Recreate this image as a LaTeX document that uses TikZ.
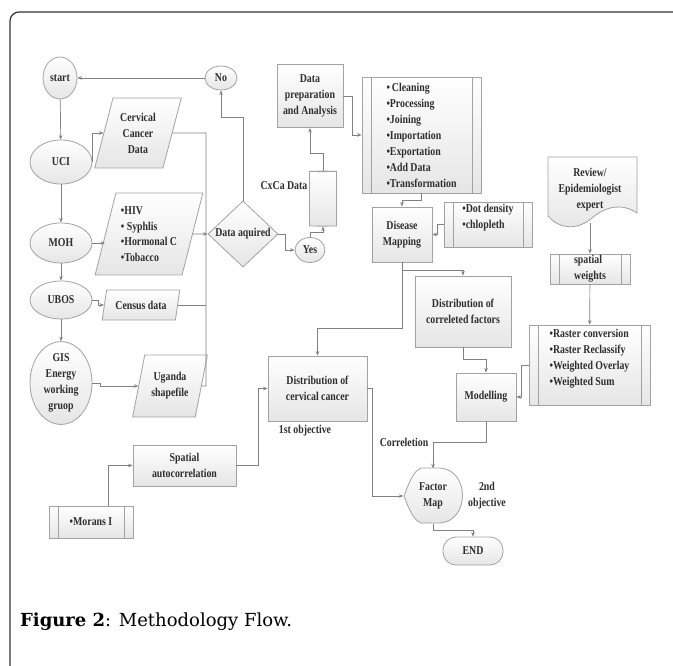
\documentclass[tikz,border=0pt]{standalone}
\usepackage{fontspec}
\setmainfont{Liberation Serif}
\newfontfamily\flowfont[FakeStretch=0.82]{Liberation Serif}
\newfontfamily\capfont{DejaVu Serif}
\usetikzlibrary{shapes.geometric,arrows.meta}
\definecolor{linegray}{HTML}{808080}
\definecolor{boxgray}{HTML}{A2A2A2}
\definecolor{txtgray}{HTML}{2E2E2E}

\begin{document}
\begin{tikzpicture}[x=1pt,y=-1pt,
  every node/.style={font=\flowfont\bfseries\fontsize{12}{16}\selectfont,text=txtgray},
  box/.style={draw=boxgray,line width=0.8pt,top color=white,bottom color=gray!20,inner sep=1pt,align=center},
  oval/.style={box,ellipse},
  datain/.style={box,trapezium,trapezium left angle=72,trapezium right angle=108,trapezium stretches=true},
  choice/.style={box,diamond,inner sep=0pt},
  proc/.style={box,rectangle},
  sub/.style={box,rectangle,align=left,
    path picture={\draw[boxgray,line width=0.8pt]
      ([xshift=9pt]path picture bounding box.north west) -- ([xshift=9pt]path picture bounding box.south west)
      ([xshift=-9pt]path picture bounding box.north east) -- ([xshift=-9pt]path picture bounding box.south east);}},
  tag/.style={inner sep=1pt,align=center},
  link/.style={draw=linegray,line width=0.7pt},
  arr/.style={link,-{Stealth[length=4.5pt,width=3.5pt]}}]

  \useasboundingbox (0,0) rectangle (673,666);
  \fill[white] (0,0) rectangle (673,666);
  \draw[line width=1.2pt,black!80,rounded corners=9] (10,680) -- (10,12) -- (690,12);

  % sources on the left
  \node[oval,minimum width=34,minimum height=42] (start) at (60,78) {start};
  \node[oval,minimum width=32,minimum height=24] (no) at (221,78) {No};
  \node[oval,minimum width=62,minimum height=44] (uci) at (61,162) {UCI};
  \node[oval,minimum width=62,minimum height=40] (moh) at (61,243) {MOH};
  \node[oval,minimum width=62,minimum height=38] (ubos) at (61,300) {UBOS};
  \node[oval,minimum width=62,minimum height=72,inner sep=0pt] (gis) at (61,383) {GIS\\Energy\\working\\gruop};

  % data
  \node[datain,minimum width=87,minimum height=70] (ccd) at (138,133) {Cervical\\Cancer\\Data};
  \node[datain,minimum width=108,minimum height=82,align=left,inner sep=0pt,
    font=\flowfont\bfseries\fontsize{12}{15.5}\selectfont] (hiv) at (149,234)
    {\textbullet HIV\\ \textbullet\ Syphlis\\ \textbullet Hormonal C\\ \textbullet Tobacco};
  \node[datain,minimum width=78,minimum height=30] (census) at (141,305) {Census data};
  \node[datain,minimum width=75,minimum height=62] (shape) at (170,386) {Uganda\\shapefile};
  \coordinate (bus) at (206,133);

  \node[choice,minimum width=70,minimum height=66] (acq) at (243,234) {Data aquired};
  \node[oval,minimum width=30,minimum height=25,inner sep=0pt] (yes) at (310,250) {Yes};
  \node[box,cylinder,shape border rotate=90,aspect=0.25,minimum width=27,minimum height=55] (cyl) at (323,199) {};
  \node[tag] (cxca) at (284,186) {CxCa Data};

  % preparation and mapping
  \node[proc,minimum width=66,minimum height=63] (prep) at (310,96) {Data\\preparation\\and Analysis};
  \node[sub,minimum width=119,minimum height=116] (clean) at (421.5,135)
    {\textbullet\,Cleaning\\ \textbullet Processing\\ \textbullet Joining\\ \textbullet Importation\\
     \textbullet Exportation\\ \textbullet Add Data\\ \textbullet Transformation};
  \node[proc,minimum width=60,minimum height=55] (dmap) at (402,234.5) {Disease\\Mapping};
  \node[sub,minimum width=88,minimum height=45] (dot) at (488,224.5)
    {\textbullet Dot density\\ \textbullet chlopleth\\ \mbox{}};

  % review document
  \draw[box] (548,157) -- (637,157) -- (637,213)
    .. controls (622,203) and (606,206) .. (592,218)
    .. controls (578,230) and (560,230) .. (548,216) -- cycle;
  \node[tag,minimum width=88,minimum height=66] (rev) at (590,190) {Review/\\Epidemiologist\\expert};
  \node[sub,minimum width=80,minimum height=30] (sw) at (590,269) {spatial\\weights};
  \node[sub,minimum width=121,minimum height=80] (rast) at (589.5,365)
    {\textbullet Raster conversion\\ \textbullet Raster Reclassify\\ \textbullet Weighted Overlay\\
     \textbullet Weighted Sum\\ \mbox{}};

  % analysis
  \node[proc,minimum width=96,minimum height=71] (dcf) at (463,311.5) {Distribution of\\correleted factors};
  \node[proc,minimum width=60,minimum height=48] (mod) at (486,397) {Modelling};
  \node[proc,minimum width=99,minimum height=65] (dcc) at (317.5,388.5) {Distribution of\\cervical cancer};
  \node[tag] (obj1) at (305,431) {1st objective};
  \node[proc,minimum width=103,minimum height=41] (sa) at (184.5,465.5) {Spatial\\autocorrelation};
  \node[sub,minimum width=84,minimum height=32] (mor) at (91,522) {\textbullet Morans I};
  \node[tag] (corr) at (404,442) {Correletion};

  % factor map and end
  \draw[box] (404,496) .. controls (410,480) and (414,471) .. (421,468) -- (440,468)
    .. controls (470,470) and (470,521) .. (440,523) -- (421,523)
    .. controls (414,520) and (410,512) .. (404,496) -- cycle;
  \node[tag,minimum width=59,minimum height=55,inner sep=0pt] (fmap) at (433,496) {Factor\\Map};
  \node[tag] (obj2) at (487,496) {2nd\\objective};
  \node[box,rounded corners=13,minimum width=60,minimum height=28] (stop) at (473,551) {END};

  % connectors
  \draw[arr] (start) -- (uci);
  \draw[arr] (uci) -- (moh);
  \draw[arr] (moh) -- (ubos);
  \draw[arr] (ubos) -- (gis);
  \draw[arr] (uci.east) |- (ccd.west);
  \draw[arr] (moh.east) -- (hiv.west |- moh.east);
  \draw[arr] (ubos.east) -- ++(6,0) |- (census.west);
  \draw[arr] (gis.east) -- ++(8,0) |- (shape.west);
  \draw[link] (ccd.east) -- (bus) -- (bus |- shape.east) -- (shape.east);
  \draw[link] (census.east) -- (census.east -| bus);
  \draw[arr] (hiv.east) -- (acq.west);
  \draw[arr] (acq.north) |- (221,117) -- (no.south);
  \draw[arr] (no) -- (start);
  \draw[arr] (acq.east) -- ++(7,0) |- (yes.west);
  \draw[arr] (yes.north) -- ++(0,-5) -| (cyl.south);
  \draw[arr] (cyl.north) -- ++(0,-17) -| (prep.south);
  \draw[arr] (prep.east) -- ++(9,0) |- (clean.west);
  \draw[arr] (clean.south) -- ++(0,7) -| (dmap.north);
  \draw[arr] (dot.west) -- ++(-6,0) |- (dmap.east);
  \draw[arr] (dmap.south) -- ++(0,8) -| (dcf.north);
  \draw[arr] (dmap.south) -- ++(0,66) -| (dcc.north);
  \draw[arr] (rev.south) -- (sw.north);
  \draw[arr] (sw) -- (rast);
  \draw[arr] (rast.west) -- ++(-7,0) |- (mod.east);
  \draw[arr] (dcf.south) -- ++(0,12) -| (mod.north);
  \draw[arr] (mod.south) -- ++(0,21) -| (fmap.north);
  \draw[arr] (dcc.east) -- ++(5,0) |- (fmap.west);
  \draw[arr] (sa.east) -- ++(22,0) |- (dcc.west);
  \draw[arr] ([xshift=17pt]mor.north) |- (sa.west);
  \draw[arr] (fmap.south) -- ++(0,7) -| (stop.north);

  % caption
  \node[anchor=base west,inner sep=0pt,text=black,font=\capfont\fontsize{18}{21}\selectfont] (cap) at (20,626)
    {\textbf{Figure 2}: Methodology Flow.};

\end{tikzpicture}
\end{document}
